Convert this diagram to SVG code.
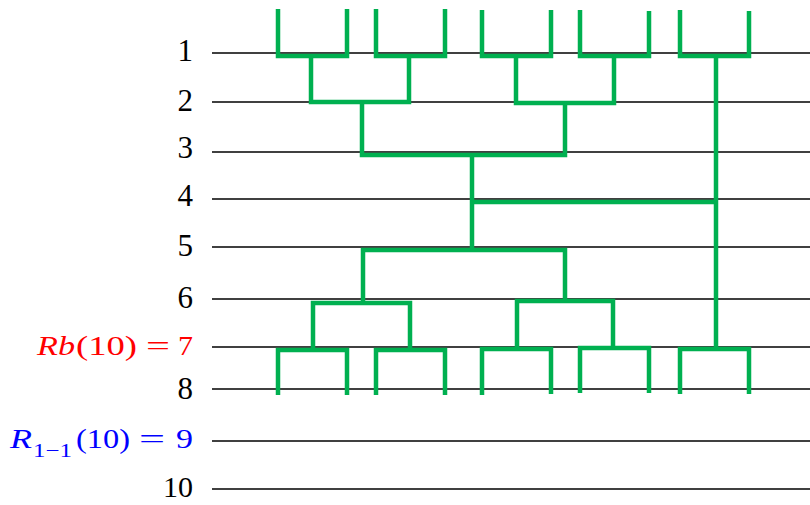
<svg xmlns="http://www.w3.org/2000/svg" width="810" height="505" viewBox="0 0 810 505">
<style>
.ax{stroke:#000;stroke-width:1.6;fill:none}
.tr{stroke:#00b050;stroke-width:4.5;fill:none;stroke-linejoin:miter;stroke-linecap:butt}
.lb{font-family:"Liberation Serif","DejaVu Serif",serif;font-size:31px;text-anchor:end;fill:#000}
.mt{font-family:"Liberation Serif","DejaVu Serif",serif;font-size:27px}
.m{font-style:italic}
.red{fill:#ff0000}
.blue{fill:#0000ff}
</style>
<rect width="810" height="505" fill="#fff"/>
<g id="axes">
<line class="ax" x1="212" y1="53" x2="810" y2="53"/>
<line class="ax" x1="212" y1="102" x2="810" y2="102"/>
<line class="ax" x1="212" y1="152" x2="810" y2="152"/>
<line class="ax" x1="212" y1="199" x2="810" y2="199"/>
<line class="ax" x1="212" y1="247" x2="810" y2="247"/>
<line class="ax" x1="212" y1="299" x2="810" y2="299"/>
<line class="ax" x1="212" y1="347" x2="810" y2="347"/>
<line class="ax" x1="212" y1="389" x2="810" y2="389"/>
<line class="ax" x1="212" y1="441" x2="810" y2="441"/>
<line class="ax" x1="212" y1="489" x2="810" y2="489"/>
</g>
<g id="labels">
<text class="lb" x="193" y="61">1</text>
<text class="lb" x="193" y="111">2</text>
<text class="lb" x="193" y="158">3</text>
<text class="lb" x="193" y="206">4</text>
<text class="lb" x="193" y="256">5</text>
<text class="lb" x="193" y="308">6</text>
<text class="lb" x="193" y="399">8</text>
<text class="lb" x="193" y="497" style="font-size:30px">10</text>
<text class="mt red" y="355"><tspan class="m" x="37" textLength="38" lengthAdjust="spacingAndGlyphs">Rb</tspan><tspan x="76" textLength="61" lengthAdjust="spacingAndGlyphs">(10)</tspan><tspan x="146" textLength="24" lengthAdjust="spacingAndGlyphs">=</tspan><tspan x="178" textLength="15" lengthAdjust="spacingAndGlyphs">7</tspan></text>
<text class="mt blue" y="448"><tspan class="m" x="10" textLength="22" lengthAdjust="spacingAndGlyphs">R</tspan><tspan x="33" y="457" font-size="19" textLength="39" lengthAdjust="spacingAndGlyphs">1−1</tspan><tspan x="76" y="448" textLength="54" lengthAdjust="spacingAndGlyphs">(10)</tspan><tspan x="139" textLength="26" lengthAdjust="spacingAndGlyphs">=</tspan><tspan x="176" textLength="17" lengthAdjust="spacingAndGlyphs">9</tspan></text>
</g>
<g id="tree-top">
<path class="tr" d="M278,9 V56 H347 V9"/>
<path class="tr" d="M376,9 V56 H445 V9"/>
<path class="tr" d="M482,10 V56 H551 V10"/>
<path class="tr" d="M580,10 V56 H649 V11"/>
<path class="tr" d="M680,10 V56 H749 V11"/>
<path class="tr" d="M311,56 V102 H409 V56"/>
<path class="tr" d="M516,56 V103 H614 V56"/>
<path class="tr" d="M362,102 V155 H565 V103"/>
</g>
<g id="tree-bottom">
<path class="tr" d="M278,395 V350 H347 V395"/>
<path class="tr" d="M376,395 V350 H445 V395"/>
<path class="tr" d="M482,395 V349 H551 V394"/>
<path class="tr" d="M580,393 V348 H649 V393"/>
<path class="tr" d="M680,394 V349 H749 V394"/>
<path class="tr" d="M313,350 V303 H410 V350"/>
<path class="tr" d="M517,349 V301 H613 V348"/>
<path class="tr" d="M363,303 V250 H565 V301"/>
</g>
<g id="connectors">
<path class="tr" d="M716,56 V349"/>
<path class="tr" d="M472,155 V250"/>
<path class="tr" d="M472,202 H716"/>
</g>
</svg>
